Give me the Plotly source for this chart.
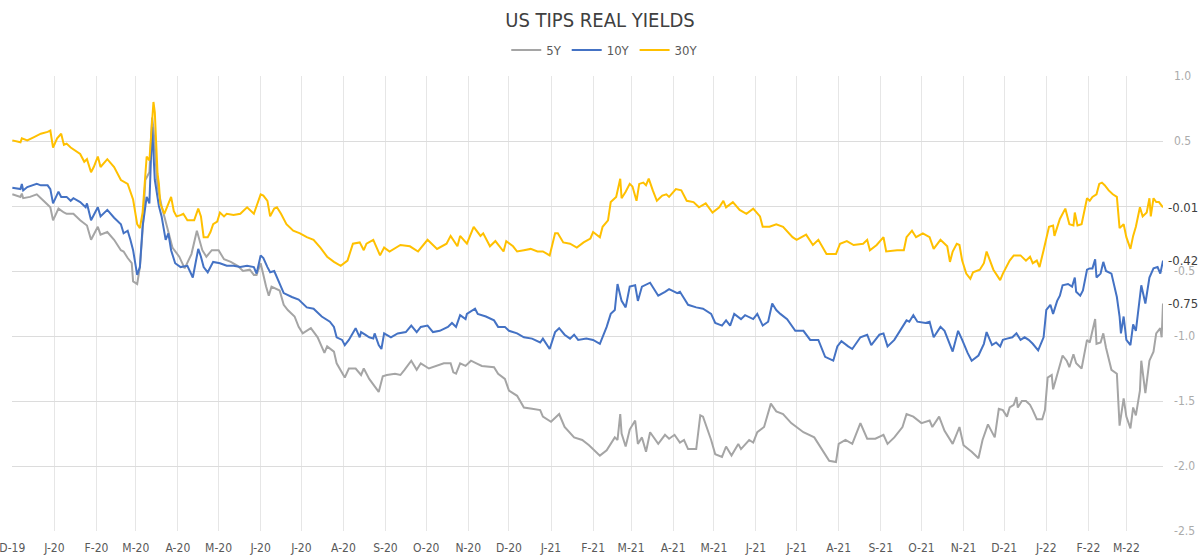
import pandas as pd
import plotly.graph_objects as go

title = "US TIPS REAL YIELDS"
series_names = ["5Y", "10Y", "30Y"]
series_colors = ["#A5A5A5", "#4472C4", "#FFC000"]

tick_labels = ["D-19", "J-20", "F-20", "M-20", "A-20", "M-20", "J-20", "J-20", "A-20", "S-20", "O-20", "N-20",
               "D-20", "J-21", "F-21", "M-21", "A-21", "M-21", "J-21", "J-21", "A-21", "S-21", "O-21", "N-21",
               "D-21", "J-22", "F-22", "M-22"]
y_tick_values = [-2.5, -2.0, -1.5, -1.0, -0.5, 0.0, 0.5, 1.0]
y_tick_labels = ["-2.5", "-2.0", "-1.5", "-1.0", "-0.5", "", "0.5", "1.0"]

dates_30y = ["2019-12-01","2019-12-07","2019-12-08","2019-12-12","2019-12-17","2019-12-22","2019-12-27","2019-12-29","2019-12-31",
"2020-01-03","2020-01-06","2020-01-08","2020-01-10","2020-01-13","2020-01-20","2020-01-23","2020-01-25","2020-01-28","2020-01-30",
"2020-02-02","2020-02-04","2020-02-09","2020-02-14","2020-02-19","2020-02-24","2020-02-26","2020-02-28",
"2020-03-02","2020-03-04","2020-03-06","2020-03-09","2020-03-11","2020-03-13","2020-03-14","2020-03-15","2020-03-17","2020-03-18","2020-03-19","2020-03-22","2020-03-24","2020-03-27","2020-03-29","2020-03-31",
"2020-04-03","2020-04-05","2020-04-08","2020-04-13","2020-04-16","2020-04-18","2020-04-20","2020-04-23","2020-04-25","2020-04-27","2020-04-30",
"2020-05-02","2020-05-05","2020-05-07","2020-05-12","2020-05-17","2020-05-22","2020-05-27",
"2020-06-01","2020-06-03","2020-06-06","2020-06-08","2020-06-11","2020-06-13","2020-06-16","2020-06-20","2020-06-25","2020-06-30",
"2020-07-05","2020-07-10","2020-07-15","2020-07-20","2020-07-25","2020-07-30",
"2020-08-04","2020-08-08","2020-08-13","2020-08-16","2020-08-18","2020-08-23","2020-08-28","2020-08-31",
"2020-09-04","2020-09-12","2020-09-19","2020-09-25",
"2020-10-02","2020-10-09","2020-10-16","2020-10-19","2020-10-24","2020-10-26","2020-10-31",
"2020-11-05","2020-11-10","2020-11-12","2020-11-17","2020-11-21","2020-11-27","2020-11-29",
"2020-12-04","2020-12-07","2020-12-12","2020-12-17","2020-12-22","2020-12-26","2020-12-31",
"2021-01-04","2021-01-06","2021-01-10","2021-01-15","2021-01-20","2021-01-25","2021-01-30",
"2021-02-01","2021-02-06","2021-02-08","2021-02-12","2021-02-14","2021-02-18","2021-02-21","2021-02-22","2021-02-25","2021-02-28",
"2021-03-02","2021-03-05","2021-03-07","2021-03-10","2021-03-12","2021-03-14","2021-03-17","2021-03-20","2021-03-24","2021-03-27","2021-03-29",
"2021-04-03","2021-04-07","2021-04-11","2021-04-16","2021-04-20","2021-04-25","2021-04-30",
"2021-05-05","2021-05-08","2021-05-10","2021-05-15","2021-05-20","2021-05-25","2021-05-30",
"2021-06-04","2021-06-06","2021-06-11","2021-06-16","2021-06-21","2021-06-28",
"2021-07-01","2021-07-08","2021-07-13","2021-07-17","2021-07-23","2021-07-30",
"2021-08-02","2021-08-07","2021-08-12","2021-08-19","2021-08-22","2021-08-24","2021-08-29",
"2021-09-03","2021-09-05","2021-09-13","2021-09-18","2021-09-20","2021-09-24","2021-09-27",
"2021-10-02","2021-10-07","2021-10-10","2021-10-15","2021-10-20","2021-10-22","2021-10-24","2021-10-27","2021-10-29","2021-10-31",
"2021-11-03","2021-11-06","2021-11-08","2021-11-13","2021-11-16","2021-11-18","2021-11-23","2021-11-28","2021-11-30",
"2021-12-05","2021-12-08","2021-12-13","2021-12-17","2021-12-20","2021-12-22","2021-12-25","2021-12-27","2021-12-30",
"2022-01-03","2022-01-06","2022-01-07","2022-01-11","2022-01-15","2022-01-16","2022-01-18","2022-01-21","2022-01-22","2022-01-24","2022-01-27","2022-01-31",
"2022-02-02","2022-02-04","2022-02-07","2022-02-09","2022-02-11","2022-02-13","2022-02-16","2022-02-19","2022-02-22","2022-02-24","2022-02-27",
"2022-03-01","2022-03-04","2022-03-06","2022-03-08","2022-03-11","2022-03-13","2022-03-16","2022-03-18","2022-03-19","2022-03-21","2022-03-23","2022-03-25","2022-03-28"]
yields_30y = [0.505,0.49,0.52,0.505,0.53,0.556,0.57,0.58,0.45,
0.52,0.556,0.47,0.48,0.45,0.40,0.34,0.36,0.26,0.30,
0.38,0.30,0.36,0.30,0.20,0.17,0.11,0.05,
-0.14,-0.17,-0.05,0.38,0.35,0.68,0.80,0.72,0.25,0.17,0.02,-0.06,-0.01,0.07,-0.04,-0.08,
-0.07,-0.06,-0.11,-0.11,-0.02,-0.08,-0.24,-0.24,-0.20,-0.14,-0.12,
-0.05,-0.08,-0.06,-0.07,-0.06,-0.01,-0.06,
0.09,0.08,0.04,-0.08,-0.02,-0.01,-0.06,-0.14,-0.19,-0.21,
-0.24,-0.26,-0.32,-0.39,-0.43,-0.46,
-0.42,-0.29,-0.28,-0.34,-0.29,-0.26,-0.38,-0.32,
-0.35,-0.30,-0.31,-0.35,
-0.26,-0.33,-0.29,-0.23,-0.31,-0.23,-0.29,
-0.16,-0.23,-0.21,-0.31,-0.27,-0.35,-0.27,
-0.31,-0.35,-0.34,-0.33,-0.35,-0.35,-0.38,
-0.21,-0.21,-0.28,-0.29,-0.32,-0.28,-0.25,
-0.20,-0.24,-0.16,-0.11,0.03,0.07,0.21,0.06,0.11,0.17,
0.15,0.04,0.17,0.18,0.16,0.21,0.12,0.04,0.08,0.09,0.07,
0.13,0.12,0.04,0.03,-0.01,0.02,-0.05,
-0.01,0.04,-0.01,0.03,-0.03,-0.06,-0.02,
-0.08,-0.16,-0.16,-0.14,-0.16,-0.24,
-0.26,-0.22,-0.30,-0.26,-0.37,-0.37,
-0.29,-0.27,-0.30,-0.29,-0.26,-0.34,-0.30,
-0.24,-0.35,-0.34,-0.34,-0.24,-0.19,-0.24,
-0.21,-0.24,-0.33,-0.26,-0.31,-0.43,-0.35,-0.29,-0.30,-0.42,
-0.52,-0.56,-0.51,-0.49,-0.44,-0.35,-0.49,-0.57,-0.52,
-0.42,-0.38,-0.38,-0.42,-0.39,-0.44,-0.42,-0.47,-0.34,
-0.16,-0.15,-0.23,-0.10,-0.02,-0.06,-0.14,-0.15,-0.05,-0.15,-0.14,0.06,
0.04,0.07,0.09,0.17,0.18,0.16,0.12,0.09,0.07,-0.17,-0.14,
-0.24,-0.33,-0.23,-0.16,-0.01,-0.08,-0.05,0.06,-0.08,0.06,0.03,0.03,-0.01]

dates_10y = ["2019-12-01","2019-12-07","2019-12-08","2019-12-09","2019-12-12","2019-12-19","2019-12-22","2019-12-27","2019-12-29","2019-12-31",
"2020-01-04","2020-01-06","2020-01-10","2020-01-13","2020-01-15","2020-01-20","2020-01-24","2020-01-25","2020-01-28",
"2020-02-02","2020-02-04","2020-02-09","2020-02-14","2020-02-19","2020-02-21","2020-02-24","2020-02-26","2020-02-28",
"2020-03-02","2020-03-04","2020-03-06","2020-03-09","2020-03-11","2020-03-13","2020-03-15","2020-03-18","2020-03-20","2020-03-23","2020-03-25","2020-03-27","2020-03-30",
"2020-04-03","2020-04-08","2020-04-12","2020-04-16","2020-04-18","2020-04-20","2020-04-23","2020-04-27",
"2020-05-02","2020-05-07","2020-05-12","2020-05-17","2020-05-22","2020-05-27","2020-05-29",
"2020-06-01","2020-06-03","2020-06-06","2020-06-08","2020-06-11","2020-06-15","2020-06-18","2020-06-24","2020-06-29",
"2020-07-05","2020-07-10","2020-07-16","2020-07-22","2020-07-25","2020-07-27","2020-07-31",
"2020-08-02","2020-08-05","2020-08-10","2020-08-13","2020-08-14","2020-08-17","2020-08-20","2020-08-23","2020-08-24","2020-08-27","2020-08-29","2020-08-31",
"2020-09-05","2020-09-10","2020-09-16","2020-09-20","2020-09-24","2020-09-27",
"2020-10-02","2020-10-06","2020-10-11","2020-10-17","2020-10-20","2020-10-23","2020-10-26","2020-10-30","2020-10-31",
"2020-11-06","2020-11-08","2020-11-14","2020-11-20","2020-11-23","2020-11-28",
"2020-12-01","2020-12-07","2020-12-12","2020-12-18","2020-12-24","2020-12-26","2020-12-31",
"2021-01-04","2021-01-07","2021-01-11","2021-01-15","2021-01-18","2021-01-21","2021-01-27",
"2021-02-01","2021-02-06","2021-02-11","2021-02-14","2021-02-17","2021-02-19","2021-02-22","2021-02-25","2021-02-28",
"2021-03-04","2021-03-06","2021-03-09","2021-03-15","2021-03-21","2021-03-26","2021-03-29",
"2021-04-04","2021-04-06","2021-04-09","2021-04-12","2021-04-18","2021-04-23","2021-04-29",
"2021-05-02","2021-05-07","2021-05-10","2021-05-13","2021-05-16","2021-05-21","2021-05-24","2021-05-30",
"2021-06-02","2021-06-06","2021-06-10","2021-06-13","2021-06-16","2021-06-19","2021-06-24","2021-06-30",
"2021-07-06","2021-07-11","2021-07-17","2021-07-22","2021-07-28","2021-07-31",
"2021-08-03","2021-08-08","2021-08-11","2021-08-17","2021-08-22","2021-08-25","2021-08-31",
"2021-09-03","2021-09-06","2021-09-11","2021-09-14","2021-09-20","2021-09-22","2021-09-25","2021-09-28",
"2021-10-04","2021-10-07","2021-10-10","2021-10-15","2021-10-18","2021-10-24","2021-10-28","2021-10-31",
"2021-11-04","2021-11-07","2021-11-12","2021-11-16","2021-11-18","2021-11-22","2021-11-25","2021-11-28","2021-11-30",
"2021-12-03","2021-12-07","2021-12-10","2021-12-13","2021-12-16","2021-12-19","2021-12-22","2021-12-26","2021-12-30",
"2022-01-01","2022-01-04","2022-01-06","2022-01-09","2022-01-11","2022-01-13","2022-01-17","2022-01-20","2022-01-22","2022-01-23","2022-01-26","2022-01-28","2022-01-31",
"2022-02-02","2022-02-04","2022-02-06","2022-02-07","2022-02-10","2022-02-12","2022-02-14","2022-02-18","2022-02-22","2022-02-24","2022-02-25","2022-02-27",
"2022-03-01","2022-03-04","2022-03-06","2022-03-08","2022-03-12","2022-03-15","2022-03-18","2022-03-21","2022-03-24","2022-03-26","2022-03-28"]
yields_10y = [0.14,0.13,0.17,0.12,0.146,0.17,0.159,0.159,0.13,0.02,
0.11,0.07,0.07,0.04,0.06,0.03,-0.01,0.02,-0.11,
-0.01,-0.08,-0.03,-0.09,-0.14,-0.21,-0.19,-0.26,-0.34,
-0.53,-0.47,-0.16,0.07,0.02,0.61,0.20,0.0,-0.08,-0.26,-0.21,-0.34,-0.44,
-0.47,-0.46,-0.55,-0.33,-0.39,-0.47,-0.51,-0.43,
-0.44,-0.46,-0.46,-0.47,-0.46,-0.47,-0.52,
-0.38,-0.40,-0.47,-0.51,-0.50,-0.59,-0.67,-0.70,-0.72,
-0.78,-0.79,-0.85,-0.89,-0.93,-1.01,-1.03,
-1.07,-1.03,-0.94,-1.01,-0.97,-0.99,-1.01,-1.02,-0.98,-1.07,-1.10,-0.98,
-1.01,-0.98,-0.97,-0.92,-0.97,-0.93,
-0.92,-0.97,-0.96,-0.93,-0.90,-0.93,-0.84,-0.87,-0.83,
-0.79,-0.83,-0.85,-0.88,-0.93,-0.93,
-0.96,-0.98,-1.01,-1.02,-1.05,-1.02,-1.10,
-0.97,-0.94,-0.99,-1.02,-0.99,-1.03,-1.02,
-1.03,-1.06,-0.93,-0.83,-0.80,-0.60,-0.73,-0.78,-0.62,
-0.61,-0.73,-0.62,-0.59,-0.69,-0.66,-0.64,
-0.67,-0.66,-0.71,-0.76,-0.78,-0.79,-0.83,
-0.90,-0.92,-0.88,-0.92,-0.83,-0.87,-0.84,-0.87,
-0.83,-0.92,-0.89,-0.75,-0.80,-0.83,-0.87,-0.96,
-0.96,-1.03,-1.03,-1.16,-1.19,-1.08,
-1.04,-1.08,-1.10,-1.01,-0.99,-1.07,-0.99,
-0.98,-1.08,-1.03,-0.98,-0.88,-0.89,-0.84,-0.89,
-0.90,-0.89,-1.01,-0.93,-0.96,-1.12,-0.96,-1.03,
-1.13,-1.19,-1.15,-1.06,-0.97,-1.07,-1.05,-1.08,-1.03,
-1.02,-1.01,-0.98,-1.03,-1.01,-1.03,-1.06,-1.11,-1.01,
-0.80,-0.76,-0.83,-0.73,-0.69,-0.61,-0.60,-0.62,-0.55,-0.66,-0.69,-0.65,-0.49,
-0.48,-0.48,-0.41,-0.55,-0.52,-0.43,-0.50,-0.52,-0.70,-0.85,-0.98,-0.85,
-1.03,-1.07,-0.91,-0.96,-0.61,-0.75,-0.55,-0.48,-0.47,-0.52,-0.42]

dates_5y = ["2019-12-01","2019-12-07","2019-12-08","2019-12-09","2019-12-14","2019-12-19","2019-12-24","2019-12-29","2019-12-31",
"2020-01-04","2020-01-08","2020-01-10","2020-01-15","2020-01-20","2020-01-25","2020-01-28",
"2020-02-02","2020-02-04","2020-02-09","2020-02-14","2020-02-19","2020-02-21","2020-02-24","2020-02-27","2020-02-28",
"2020-03-02","2020-03-04","2020-03-06","2020-03-08","2020-03-11","2020-03-13","2020-03-14","2020-03-17","2020-03-20","2020-03-24","2020-03-28",
"2020-04-02","2020-04-06","2020-04-11","2020-04-15","2020-04-19","2020-04-22","2020-04-26",
"2020-05-01","2020-05-05","2020-05-10","2020-05-15","2020-05-19","2020-05-24","2020-05-27","2020-05-29",
"2020-06-01","2020-06-05","2020-06-07","2020-06-09","2020-06-15","2020-06-18","2020-06-21","2020-06-26","2020-06-29",
"2020-07-02","2020-07-05","2020-07-08","2020-07-13","2020-07-18","2020-07-20","2020-07-25","2020-07-27","2020-07-30",
"2020-08-02","2020-08-05","2020-08-10","2020-08-14","2020-08-16","2020-08-20","2020-08-24","2020-08-27","2020-08-30",
"2020-09-02","2020-09-08","2020-09-12","2020-09-15","2020-09-20","2020-09-24","2020-09-27",
"2020-10-03","2020-10-09","2020-10-14","2020-10-19","2020-10-21","2020-10-23","2020-10-26","2020-10-30",
"2020-11-03","2020-11-07","2020-11-11","2020-11-20","2020-11-23","2020-11-28",
"2020-12-01","2020-12-07","2020-12-12","2020-12-18","2020-12-24","2020-12-26",
"2021-01-01","2021-01-07","2021-01-11","2021-01-18","2021-01-24","2021-01-29",
"2021-02-06","2021-02-11","2021-02-14","2021-02-17","2021-02-19","2021-02-21","2021-02-22","2021-02-25","2021-02-28",
"2021-03-04","2021-03-06","2021-03-09","2021-03-12","2021-03-15","2021-03-21","2021-03-26","2021-03-29",
"2021-04-02","2021-04-06","2021-04-09","2021-04-12","2021-04-18","2021-04-21","2021-04-23","2021-04-29",
"2021-05-02","2021-05-07","2021-05-10","2021-05-14","2021-05-19","2021-05-21","2021-05-27","2021-05-30",
"2021-06-02","2021-06-07","2021-06-12","2021-06-16","2021-06-21","2021-06-27",
"2021-07-06","2021-07-14","2021-07-20","2021-07-25","2021-07-30",
"2021-08-01","2021-08-06","2021-08-11","2021-08-17","2021-08-22","2021-08-28",
"2021-09-03","2021-09-06","2021-09-11","2021-09-17","2021-09-20","2021-09-25",
"2021-10-01","2021-10-07","2021-10-09","2021-10-14","2021-10-18","2021-10-24","2021-10-29",
"2021-11-01","2021-11-07","2021-11-12","2021-11-15","2021-11-19","2021-11-24","2021-11-27","2021-11-30",
"2021-12-03","2021-12-05","2021-12-08","2021-12-10","2021-12-11","2021-12-14","2021-12-17","2021-12-20","2021-12-22","2021-12-25","2021-12-29","2021-12-31",
"2022-01-02","2022-01-05","2022-01-06","2022-01-10","2022-01-13","2022-01-16","2022-01-18","2022-01-21","2022-01-23","2022-01-27","2022-01-31",
"2022-02-02","2022-02-06","2022-02-07","2022-02-10","2022-02-12","2022-02-14","2022-02-18","2022-02-22","2022-02-24","2022-02-27",
"2022-03-01","2022-03-04","2022-03-06","2022-03-08","2022-03-11","2022-03-12","2022-03-15","2022-03-18","2022-03-21","2022-03-23","2022-03-26","2022-03-27","2022-03-28"]
yields_5y = [0.09,0.07,0.096,0.06,0.07,0.09,0.04,-0.01,-0.11,
-0.02,-0.05,-0.06,-0.06,-0.11,-0.15,-0.26,
-0.16,-0.22,-0.20,-0.26,-0.34,-0.35,-0.40,-0.44,-0.58,
-0.60,-0.47,-0.19,0.20,0.26,0.68,0.60,0.15,0.0,-0.16,-0.32,
-0.39,-0.48,-0.37,-0.19,-0.34,-0.39,-0.34,
-0.34,-0.41,-0.43,-0.46,-0.50,-0.49,-0.53,-0.53,
-0.44,-0.62,-0.69,-0.62,-0.65,-0.76,-0.80,-0.85,-0.93,
-0.98,-0.96,-0.94,-1.01,-1.13,-1.08,-1.12,-1.21,-1.26,
-1.32,-1.25,-1.25,-1.30,-1.25,-1.33,-1.39,-1.43,-1.31,
-1.30,-1.29,-1.30,-1.26,-1.19,-1.26,-1.21,
-1.25,-1.23,-1.21,-1.21,-1.28,-1.29,-1.21,-1.23,
-1.19,-1.21,-1.23,-1.24,-1.29,-1.33,
-1.42,-1.46,-1.55,-1.56,-1.57,-1.62,
-1.66,-1.60,-1.70,-1.78,-1.80,-1.84,
-1.92,-1.88,-1.83,-1.78,-1.80,-1.60,-1.75,-1.85,-1.72,
-1.65,-1.83,-1.78,-1.89,-1.74,-1.83,-1.76,-1.79,
-1.76,-1.82,-1.80,-1.87,-1.87,-1.61,-1.62,-1.80,
-1.91,-1.93,-1.85,-1.92,-1.83,-1.87,-1.80,-1.82,
-1.74,-1.70,-1.52,-1.58,-1.60,-1.67,
-1.74,-1.78,-1.88,-1.96,-1.97,
-1.83,-1.80,-1.83,-1.67,-1.79,-1.79,
-1.76,-1.83,-1.78,-1.70,-1.60,-1.62,
-1.67,-1.65,-1.70,-1.62,-1.73,-1.83,-1.70,
-1.84,-1.89,-1.94,-1.80,-1.68,-1.78,-1.56,-1.57,
-1.62,-1.55,-1.53,-1.47,-1.55,-1.50,-1.50,-1.53,-1.57,-1.64,-1.64,-1.57,
-1.32,-1.30,-1.41,-1.25,-1.15,-1.19,-1.24,-1.14,-1.21,-1.25,-1.03,
-1.05,-0.87,-1.06,-1.05,-0.98,-1.09,-1.26,-1.29,-1.69,-1.48,
-1.62,-1.71,-1.55,-1.61,-1.42,-1.19,-1.44,-1.19,-1.12,-0.98,-0.94,-1.01,-0.75]

x_start = "2019-11-30 18:00"
x_end = "2022-03-28"

FONT = "DejaVu Sans Condensed, Liberation Sans Narrow, Roboto, sans-serif"

series = [(series_names[0], dates_5y, yields_5y, series_colors[0]),
          (series_names[1], dates_10y, yields_10y, series_colors[1]),
          (series_names[2], dates_30y, yields_30y, series_colors[2])]

fig = go.Figure()
for name, d, v, c in series:
    fig.add_trace(go.Scatter(x=pd.to_datetime(d), y=v, mode="lines", name=name,
                             line=dict(color=c, width=2)))

tick_dates = pd.date_range("2019-12-01", periods=len(tick_labels), freq="MS")

annotations = []
for name, d, v, c in series:
    annotations.append(dict(x=1, xref="paper", y=v[-1], yref="y", text=f"{v[-1]:.2f}",
                            showarrow=False, xanchor="left", yanchor="middle", xshift=3,
                            font=dict(family=FONT, size=13, color="#404040")))

fig.update_layout(
    width=1200, height=558,
    margin=dict(l=12, r=37, t=76, b=27, autoexpand=False),
    paper_bgcolor="white", plot_bgcolor="white",
    font=dict(family=FONT, size=12, color="#595959"),
    title=dict(text=title, x=0.5, xanchor="center", y=1 - 20 / 558, yref="container", yanchor="middle",
               font=dict(family=FONT, size=20, color="#404040")),
    legend=dict(orientation="h", x=0.515, xanchor="center", y=1 - 50 / 558, yref="container", yanchor="middle",
                font=dict(family=FONT, size=13, color="#595959"), itemwidth=30, tracegroupgap=0),
    xaxis=dict(type="date", range=[x_start, x_end], tickvals=tick_dates, ticktext=tick_labels,
               showgrid=True, gridcolor="#e6e6e6", gridwidth=1, zeroline=False, showline=False,
               ticks="", ticklabelstandoff=8, automargin=False, ticklabeloverflow="allow",
               tickfont=dict(size=12, color="#595959")),
    yaxis=dict(side="right", range=[-2.5, 1.0], tickvals=y_tick_values, ticktext=y_tick_labels,
               showgrid=True, gridcolor="#dcdcdc", gridwidth=1, zeroline=False, showline=False,
               ticks="", ticklabelstandoff=10, automargin=False,
               tickfont=dict(size=12, color="#ababab")),
    annotations=annotations,
    showlegend=True,
)

fig.write_html("out.html")
